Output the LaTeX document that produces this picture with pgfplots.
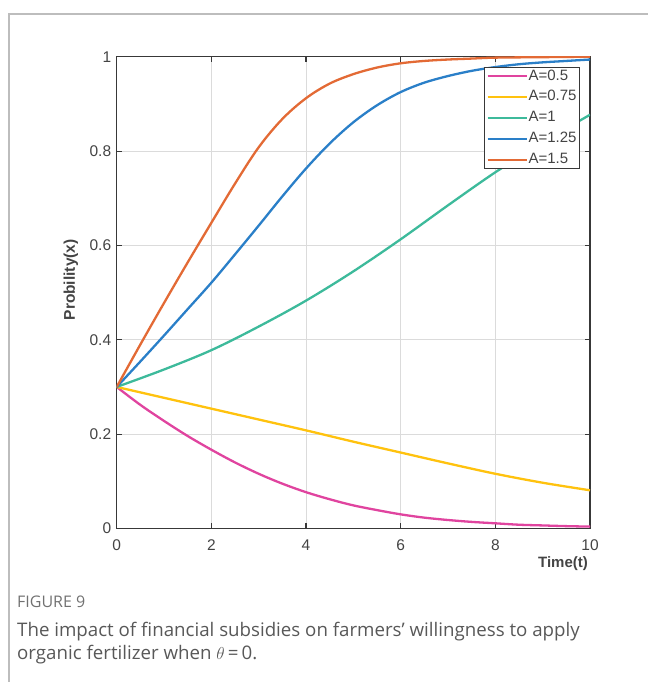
\documentclass[border=0pt]{standalone}
\usepackage{pgfplots}
\pgfplotsset{compat=1.18}
\usepackage{fontspec}
\setmainfont{Liberation Sans}
\newfontfamily\capfont{Open Sans}
\definecolor{cpink}{HTML}{E0449F}
\definecolor{cyellow}{HTML}{FFC20E}
\definecolor{cgreen}{HTML}{3DBA9B}
\definecolor{cblue}{HTML}{2A7FC8}
\definecolor{corange}{HTML}{E36A35}
\definecolor{axgray}{HTML}{383838}
\definecolor{tkgray}{HTML}{444444}
\definecolor{framegray}{HTML}{BDBDBD}
\definecolor{capgray}{HTML}{585858}
\begin{document}
\begin{tikzpicture}[x=1pt,y=1pt]
\path[use as bounding box] (0,0) rectangle (648,682);
\draw[framegray, line width=1.3pt] (9,0) -- (9,668) -- (648,668);
\begin{axis}[
  at={(116.7pt,153.5pt)}, anchor=south west,
  scale only axis, width=473.3pt, height=471.8pt,
  xmin=0, xmax=10, ymin=0, ymax=1,
  xtick={0,2,4,6,8,10}, ytick={0,0.2,0.4,0.6,0.8,1},
  tick align=inside, major tick length=5pt,
  xtick pos=both, ytick pos=both,
  grid=major,
  major grid style={draw=black!14, line width=0.8pt},
  axis line style={draw=axgray, line width=1.3pt},
  every tick/.style={draw=axgray, line width=1.1pt},
  /pgf/number format/assume math mode=true,
  tick label style={font=\fontsize{15.5}{17}\selectfont, text=tkgray},
  yticklabel style={xshift=-2pt},
  xticklabel style={yshift=-7.5pt},
  xlabel={\textbf{Time(t)}},
  ylabel={\textbf{Probility(x)}},
  xlabel style={font=\fontsize{15}{17}\selectfont, text=tkgray, at={(axis description cs:0.943,-0.074)}, anchor=center},
  ylabel style={font=\fontsize{15.5}{17}\selectfont, text=tkgray, at={(axis description cs:-0.0966,0.527)}, anchor=center},
  legend cell align=left,
  legend image code/.code={\draw[#1, line width=2pt, sharp plot] (0pt,0pt) -- (39pt,0pt);},
  legend style={at={(axis cs:9.79,0.979)}, anchor=north east,
    draw=axgray, line width=1.1pt, fill=white,
    font=\fontsize{15}{16}\selectfont, text=tkgray,
    inner xsep=2pt, inner ysep=2pt, row sep=6.3pt,
    nodes={inner xsep=1pt, inner ysep=0pt, text height=11pt, text depth=3.5pt}},
  every axis plot/.append style={line width=2.3pt, no markers, smooth, tension=0.55},
]
\addplot[cpink] coordinates {(0,0.300) (0.5,0.262) (1,0.228) (1.5,0.196) (2,0.167) (2.5,0.140) (3,0.116) (3.5,0.095) (4,0.077) (4.5,0.062) (5,0.049) (5.5,0.039) (6,0.030) (6.5,0.023) (7,0.018) (7.5,0.014) (8,0.011) (8.5,0.008) (9,0.0065) (9.5,0.005) (10,0.004)};
\addlegendentry{A=0.5}
\addplot[cyellow] coordinates {(0,0.300) (1,0.277) (2,0.254) (3,0.231) (4,0.208) (5,0.184) (6,0.161) (7,0.138) (8,0.116) (9,0.097) (10,0.081)};
\addlegendentry{A=0.75}
\addplot[cgreen] coordinates {(0,0.300) (1,0.337) (2,0.378) (3,0.428) (4,0.483) (5,0.545) (6,0.613) (7,0.685) (8,0.755) (9,0.818) (10,0.877)};
\addlegendentry{A=1}
\addplot[cblue] coordinates {(0,0.300) (0.5,0.354) (1,0.409) (1.5,0.465) (2,0.521) (2.5,0.581) (3,0.642) (3.5,0.704) (4,0.763) (4.5,0.816) (5,0.861) (5.5,0.897) (6,0.925) (6.5,0.945) (7,0.959) (7.5,0.970) (8,0.978) (8.5,0.984) (9,0.988) (9.5,0.991) (10,0.994)};
\addlegendentry{A=1.25}
\addplot[corange] coordinates {(0,0.300) (0.5,0.390) (1,0.478) (1.5,0.564) (2,0.648) (2.5,0.731) (3,0.808) (3.5,0.868) (4,0.912) (4.5,0.943) (5,0.963) (5.5,0.977) (6,0.986) (6.5,0.991) (7,0.994) (7.5,0.996) (8,0.998) (9,0.999) (10,1.000)};
\addlegendentry{A=1.5}
\end{axis}
\node[anchor=base west, font=\capfont\fontsize{16}{18}\selectfont, text=capgray!85, inner sep=0pt] at (17,74) {FIGURE 9};
\node[anchor=base west, font=\capfont\fontsize{18.7}{22}\selectfont, text=capgray, inner sep=0pt] at (17,45) {The impact of financial subsidies on farmers’ willingness to apply};
\node[anchor=base west, font=\capfont\fontsize{18.7}{22}\selectfont, text=capgray, inner sep=0pt] at (17,22) {organic fertilizer when $\theta$\,=\,0.};
\end{tikzpicture}
\end{document}
